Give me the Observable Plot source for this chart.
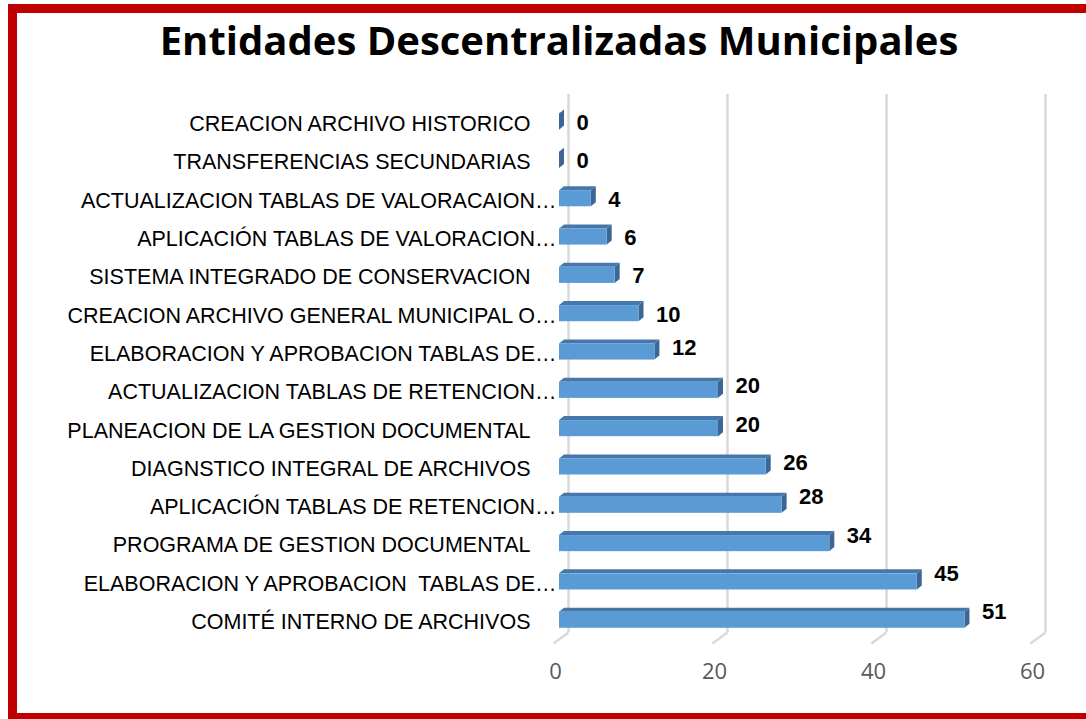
<!DOCTYPE html>
<html>
<head>
<meta charset="utf-8">
<script src="https://cdn.jsdelivr.net/npm/d3@7"></script>
<script src="https://cdn.jsdelivr.net/npm/@observablehq/plot@0.6"></script>
<style>
  html, body { margin: 0; padding: 0; background: #ffffff; width: 1086px; height: 719px; overflow: hidden; }
  #chart { position: absolute; left: 0; top: 0; }
  #title {
    position: absolute; left: 559px; top: 20px; transform: translateX(-50%);
    white-space: nowrap; font-family: "Open Sans", sans-serif; font-weight: 700;
    font-size: 40px; line-height: 1; color: #000000;
  }
  #frame {
    position: absolute; left: 8px; top: 4px; width: 1100px; height: 718px;
    box-sizing: border-box; border: 9px solid #c00000; pointer-events: none;
  }
</style>
</head>
<body>
<div id="chart"></div>
<div id="title">Entidades Descentralizadas Municipales</div>
<div id="frame"></div>
<script>
// ---- data (top to bottom as displayed) ----
const categories = [
  "CREACION ARCHIVO HISTORICO",
  "TRANSFERENCIAS SECUNDARIAS",
  "ACTUALIZACION TABLAS DE VALORACAION…",
  "APLICACIÓN TABLAS DE VALORACION…",
  "SISTEMA INTEGRADO DE CONSERVACION",
  "CREACION ARCHIVO GENERAL MUNICIPAL O…",
  "ELABORACION Y APROBACION TABLAS DE…",
  "ACTUALIZACION TABLAS DE RETENCION…",
  "PLANEACION DE LA GESTION DOCUMENTAL",
  "DIAGNSTICO INTEGRAL DE ARCHIVOS",
  "APLICACIÓN TABLAS DE RETENCION…",
  "PROGRAMA DE GESTION DOCUMENTAL",
  "ELABORACION Y APROBACION  TABLAS DE…",
  "COMITÉ INTERNO DE ARCHIVOS"
];
const values = [0, 0, 4, 6, 7, 10, 12, 20, 20, 26, 28, 34, 45, 51];
const tickValues = [0, 20, 40, 60];
const tickLabels = ["0", "20", "40", "60"];

// ---- styling constants ----
const HALF = 0.21;      // half bar thickness (in rows)
const DEPTH_X = 0.63;   // 3D depth along x (value units)
const DEPTH_Y = 0.105;  // 3D depth along y (rows)
const Y_TOP = -0.72, Y_BOTTOM = 13.32;
const FOOT_X = 1.9, FOOT_Y = 0.29;

const rows = categories.map((c, i) => ({cat: c, value: values[i], row: i}));

const topFace = rows.filter(r => r.value > 0).flatMap(r => [
  {id: r.row, x: 0,                 y1: r.row - HALF,           y2: r.row - HALF},
  {id: r.row, x: DEPTH_X,           y1: r.row - HALF - DEPTH_Y, y2: r.row - HALF},
  {id: r.row, x: r.value,           y1: r.row - HALF - DEPTH_Y, y2: r.row - HALF},
  {id: r.row, x: r.value + DEPTH_X, y1: r.row - HALF - DEPTH_Y, y2: r.row - HALF - DEPTH_Y}
]);
const sideFace = rows.flatMap(r => [
  {id: r.row, x: r.value,           y1: r.row - HALF,           y2: r.row + HALF},
  {id: r.row, x: r.value + DEPTH_X, y1: r.row - HALF - DEPTH_Y, y2: r.row + HALF - DEPTH_Y}
]);

const labelFont = "'Liberation Sans', Arial, sans-serif";
const valueLabel = (data, dy) => Plot.text(data, {
  x: "value", y: "row", text: d => String(d.value),
  textAnchor: "start", dx: 17, dy,
  fontSize: 22, fontWeight: "bold", fill: "#000000", fontFamily: labelFont
});

const chart = Plot.plot({
  width: 1086,
  height: 719,
  marginLeft: 559,
  marginRight: 50,
  marginTop: 94,
  marginBottom: 87,
  x: {domain: [0, 60], axis: null},
  y: {domain: [Y_TOP, Y_BOTTOM], reverse: true, axis: null},
  style: {background: "transparent", fontFamily: labelFont, overflow: "visible"},
  marks: [
    // back-wall gridlines
    Plot.ruleX(tickValues, {x: d => d, dx: 9, stroke: "#d9d9d9", strokeWidth: 2.5}),
    // floor feet of the gridlines
    Plot.link(tickValues, {
      x1: d => d, x2: d => d - FOOT_X,
      y1: () => Y_BOTTOM, y2: () => Y_BOTTOM + FOOT_Y,
      dx: 9, stroke: "#d9d9d9", strokeWidth: 2.5
    }),
    // 3D bar faces
    Plot.areaY(sideFace, {x: "x", y1: "y1", y2: "y2", z: "id", fill: "#3c6794"}),
    Plot.areaY(topFace, {x: "x", y1: "y1", y2: "y2", z: "id", fill: "#4677aa"}),
    Plot.rect(rows, {x1: 0, x2: "value", y1: d => d.row - HALF, y2: d => d.row + HALF, fill: "#5b9bd5"}),
    // value labels (upper rows sit level with the bar, lower rows a little above it)
    valueLabel(rows.filter(r => r.row < 6), 1),
    valueLabel(rows.filter(r => r.row >= 6 && r.row < 10), -4),
    valueLabel(rows.filter(r => r.row >= 10), -8),
    // category labels (full)
    Plot.text(rows.filter(r => !r.cat.endsWith("…")), {
      frameAnchor: "left", y: "row", text: "cat",
      textAnchor: "end", dx: -29, dy: 2,
      fontSize: 21.5, fill: "#000000", fontFamily: labelFont
    }),
    // category labels (truncated)
    Plot.text(rows.filter(r => r.cat.endsWith("…")), {
      frameAnchor: "left", y: "row", text: "cat",
      textAnchor: "end", dx: -3, dy: 2,
      fontSize: 21.5, fill: "#000000", fontFamily: labelFont
    }),
    // x tick labels
    Plot.text(tickValues, {
      x: d => d, frameAnchor: "bottom", text: (d, i) => tickLabels[i],
      dx: -4, dy: 46, fontSize: 22, fill: "#595959",
      fontFamily: "'Open Sans', sans-serif"
    })
  ]
});
document.getElementById("chart").appendChild(chart);
</script>
</body>
</html>
